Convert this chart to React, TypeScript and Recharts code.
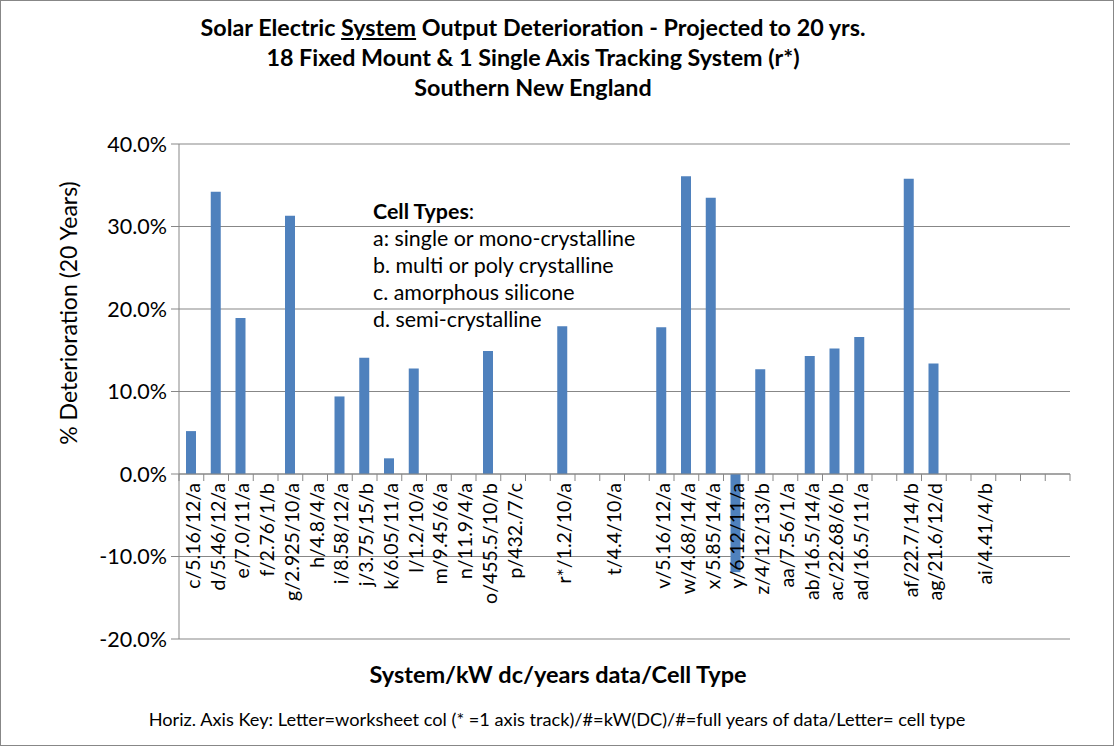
import { BarChart, Bar, XAxis, YAxis, CartesianGrid, ReferenceLine } from "recharts";

// system / kW dc / years of data / cell type ("" = empty worksheet column)
const systems = [
  "c/5.16/12/a", "d/5.46/12/a", "e/7.0/11/a", "f/2.76/1/b", "g/2.925/10/a", "h/4.8/4/a",
  "i/8.58/12/a", "j/3.75/15/b", "k/6.05/11/a", "l/1.2/10/a", "m/9.45/6/a", "n/11.9/4/a",
  "o/455.5/10/b", "p/432./7/c", "", "r*/1.2/10/a", "", "t/4.4/10/a",
  "", "v/5.16/12/a", "w/4.68/14/a", "x/5.85/14/a", "y/6.12/11/a", "z/4/12/13/b",
  "aa/7.56/1/a", "ab/16.5/14/a", "ac/22.68/6/b", "ad/16.5/11/a", "", "af/22.7/14/b",
  "ag/21.6/12/d", "", "ai/4.41/4/b", "", "", "",
];

// projected 20 year deterioration, %
const deterioration: (number | null)[] = [
  5.2, 34.2, 18.9, null, 31.3, null,
  9.4, 14.1, 1.9, 12.8, null, null,
  14.9, null, null, 17.9, null, null,
  null, 17.8, 36.1, 33.5, -11.9, 12.7,
  null, 14.3, 15.2, 16.6, null, 35.8,
  13.4, null, null, null, null, null,
];

const yTicks = [-20, -10, 0, 10, 20, 30, 40];

const cellTypes = [
  "a: single or mono-crystalline",
  "b. multi or poly crystalline",
  "c. amorphous silicone",
  "d. semi-crystalline",
];

const data = systems.map((system, i) => ({ system, value: deterioration[i] }));

const FONT = "Lato, 'Open Sans', sans-serif";
const GRID = "#878787";
const BLUE = "#4f81bd";

const W = 1114;
const H = 746;
const PLOT_LEFT = 179;
const PLOT_RIGHT = 1070;
const PLOT_TOP = 144;
const PLOT_BOTTOM = 639;
const Y_AXIS_W = 90;

const Y_MIN = yTicks[0];
const Y_MAX = yTicks[yTicks.length - 1];
const zeroY = PLOT_TOP + ((PLOT_BOTTOM - PLOT_TOP) * Y_MAX) / (Y_MAX - Y_MIN);
const band = (PLOT_RIGHT - PLOT_LEFT) / systems.length;

function CategoryTick(props: any) {
  const { x, index, payload } = props;
  const last = index === systems.length - 1;
  return (
    <g>
      <line x1={x - band / 2} x2={x - band / 2} y1={zeroY} y2={zeroY + 7} stroke={GRID} />
      {last && <line x1={x + band / 2} x2={x + band / 2} y1={zeroY} y2={zeroY + 7} stroke={GRID} />}
      <text
        transform={`translate(${x + 8.5},${zeroY + 9}) rotate(-90)`}
        textAnchor="end"
        fontSize={19.5}
        fontFamily={FONT}
        fill="#000"
      >
        {payload.value}
      </text>
    </g>
  );
}

export default function App() {
  return (
    <div
      style={{
        position: "absolute",
        left: 0,
        top: 0,
        width: W,
        height: H,
        boxSizing: "border-box",
        border: `1px solid ${GRID}`,
        background: "#fff",
        fontFamily: FONT,
        color: "#000",
      }}
    >
      <div style={{ position: "absolute", left: -1, top: -1 }}>
        <BarChart
          width={W}
          height={H}
          data={data}
          margin={{ top: PLOT_TOP, right: W - PLOT_RIGHT, bottom: H - PLOT_BOTTOM - 1, left: PLOT_LEFT - Y_AXIS_W }}
          barSize={10}
        >
          <CartesianGrid vertical={false} stroke={GRID} strokeWidth={1} />
          <XAxis
            dataKey="system"
            height={1}
            axisLine={false}
            tickLine={false}
            tickSize={0}
            tickMargin={0}
            interval={0}
            tick={<CategoryTick />}
          />
          <YAxis
            width={Y_AXIS_W}
            domain={[Y_MIN, Y_MAX]}
            ticks={yTicks}
            interval={0}
            axisLine={{ stroke: GRID }}
            tickLine={{ stroke: GRID }}
            tickSize={8}
            tickMargin={4}
            tickFormatter={(v: number) => `${v.toFixed(1)}%`}
            tick={{ fontSize: 21.5, fontFamily: FONT, fill: "#000" }}
          />
          <Bar dataKey="value" fill={BLUE} isAnimationActive={false} />
          <ReferenceLine y={0} stroke={GRID} />
        </BarChart>
      </div>

      <div
        style={{
          position: "absolute",
          left: 0,
          width: 1064,
          top: 11,
          textAlign: "center",
          fontWeight: 700,
          fontSize: 23.3,
          lineHeight: "30px",
        }}
      >
        <div>
          Solar Electric <span style={{ textDecoration: "underline" }}>System</span> Output Deterioration - Projected to 20 yrs.
        </div>
        <div>18 Fixed Mount &amp; 1 Single Axis Tracking System (r*)</div>
        <div>Southern New England</div>
      </div>

      <div
        style={{
          position: "absolute",
          left: 67,
          top: 312,
          transform: "translate(-50%, -50%) rotate(-90deg)",
          whiteSpace: "nowrap",
          fontSize: 23,
        }}
      >
        % Deterioration (20 Years)
      </div>

      <div style={{ position: "absolute", left: 372, top: 197, fontSize: 21.4, lineHeight: "27px" }}>
        <div>
          <b>Cell Types</b>:
        </div>
        {cellTypes.map((t) => (
          <div key={t}>{t}</div>
        ))}
      </div>

      <div
        style={{
          position: "absolute",
          left: 0,
          width: 1114,
          top: 659,
          textAlign: "center",
          fontWeight: 700,
          fontSize: 23.5,
        }}
      >
        System/kW dc/years data/Cell Type
      </div>

      <div
        style={{
          position: "absolute",
          left: 0,
          width: 1112,
          top: 707,
          textAlign: "center",
          fontSize: 18.2,
        }}
      >
        Horiz. Axis Key: Letter=worksheet col (* =1 axis track)/#=kW(DC)/#=full years of data/Letter= cell type
      </div>
    </div>
  );
}
